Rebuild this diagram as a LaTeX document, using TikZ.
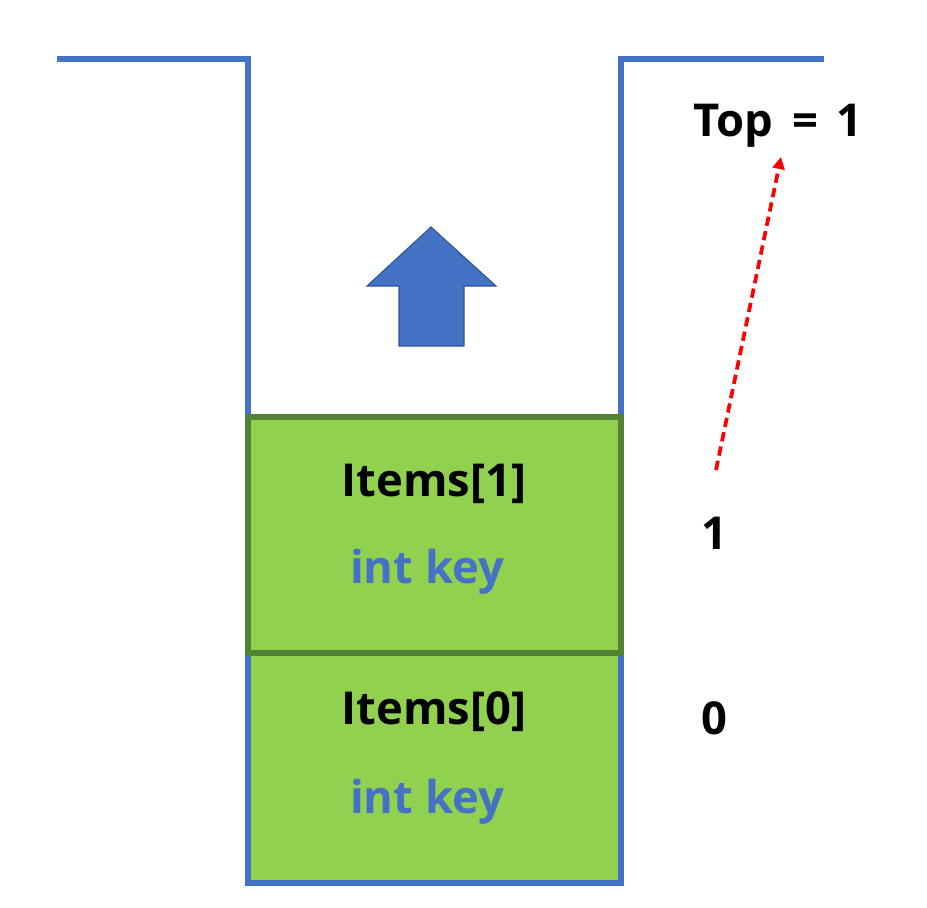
\documentclass[tikz,border=0pt]{standalone}
\usepackage{fontspec}
\setmainfont{Open Sans}
\usetikzlibrary{arrows.meta, positioning, calc}
\definecolor{stackblue}{RGB}{68, 114, 196}
\definecolor{arrowedge}{RGB}{47, 82, 143}
\definecolor{itemgreen}{RGB}{146, 208, 80}
\definecolor{itemedge}{RGB}{84, 130, 53}
\tikzset{
    wall/.style={draw=stackblue, line width=5pt},
    itembox/.style={fill=itemgreen},
    label/.style={font=\fontsize{34}{40}\selectfont\bfseries},
    keylabel/.style={label, text=stackblue},
}

\begin{document}
\begin{tikzpicture}[x=0.75pt, y=-0.75pt]
    \useasboundingbox (0,0) rectangle (927,907);

    % Pila
    \fill[itembox] (248,653) rectangle (621,883);
    \draw[wall] (57,59) -- (248,59) -- (248,883) -- (621,883) -- (621,59) -- (824,59);

    % Elemento superior
    \draw[itembox, draw=itemedge, line width=5pt] (248,417) rectangle (621,653);

    \node[label] (item1) at (434,484) {Items[1]};
    \node[keylabel] (key1) at (427,572) {int key};
    \node[label] (item0) at (434,712) {Items[0]};
    \node[keylabel] (key0) at (427,802) {int key};

    % Push
    \draw[fill=stackblue, draw=arrowedge, line width=0.8pt]
        (431,227) -- (496,286) -- (464,286) -- (464,346) -- (399,346) -- (399,286) -- (367,286) -- cycle;

    % Indices
    \node[label] (idx1) at (714,533) {1};
    \node[label] (idx0) at (714,718) {0};
    \node[label] (top) at (778,126) {Top\hspace{14pt}=\hspace{14pt}1};
    \coordinate (start) at (716,470);
    \coordinate (end) at (781,157);
    \draw[red, line width=2.8pt, dash pattern=on 7pt off 4pt, -{Triangle[length=9pt, width=9pt]}] (start) -- (end);
\end{tikzpicture}
\end{document}
